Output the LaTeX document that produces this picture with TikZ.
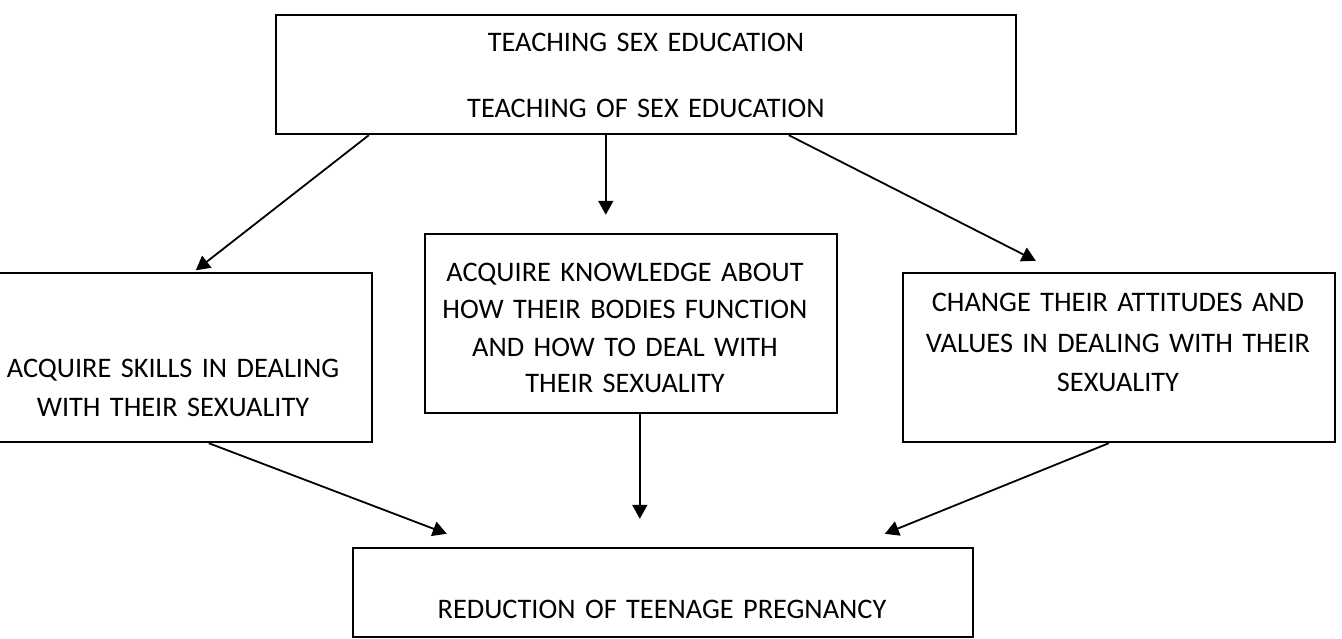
\documentclass[tikz,border=0pt]{standalone}
\usepackage{fontspec}
\setmainfont{Carlito}
\usetikzlibrary{arrows.meta,calc}
\tikzset{
  box/.style={draw=black, line width=2.4pt, inner sep=0pt, fill=none},
  txt/.style={anchor=base, inner sep=0pt, text width=700pt, align=center},
  conn/.style={draw=black, line width=1.8pt, -{Triangle[length=14pt,width=15pt]}},
}
\begin{document}
\begin{tikzpicture}[x=1pt,y=-1pt]
\useasboundingbox[fill=white] (0,0) rectangle (1342,639);
\clip (0,0) rectangle (1342,639);
% boxes
\node[box, minimum width=740pt, minimum height=119pt] (T) at (646,74.5) {};
\node[box, minimum width=398pt, minimum height=169pt] (L) at (173,357.5) {};
\node[box, minimum width=412pt, minimum height=179pt] (M) at (631,323.5) {};
\node[box, minimum width=432pt, minimum height=169pt] (R) at (1119,357.5) {};
\node[box, minimum width=620pt, minimum height=89pt] (B) at (663,592.5) {};
% texts
\node[txt, font=\fontsize{28.3}{39.5}\selectfont] (Tt) at (646,52)
  {TEACHING SEX EDUCATION\\[26.5pt]TEACHING OF SEX EDUCATION};
\node[txt, font=\fontsize{28.3}{39}\selectfont] (Lt) at (173,377)
  {ACQUIRE SKILLS IN DEALING\\WITH THEIR SEXUALITY};
\node[txt, font=\fontsize{28.3}{37}\selectfont] (Mt) at (625,282)
  {ACQUIRE KNOWLEDGE ABOUT\\HOW THEIR BODIES FUNCTION\\AND HOW TO DEAL WITH\\THEIR SEXUALITY};
\node[txt, font=\fontsize{28.3}{40}\selectfont] (Rt) at (1118,312)
  {CHANGE THEIR ATTITUDES AND\\VALUES IN DEALING WITH THEIR\\SEXUALITY};
\node[txt, font=\fontsize{28.3}{39}\selectfont] (Bt) at (662,618)
  {REDUCTION OF TEENAGE PREGNANCY};
% connectors
\draw[conn] ([xshift=94pt]T.south west) -- ([xshift=223pt,yshift=1.5pt]L.north west);
\draw[conn] ([xshift=331pt]T.south west) -- ([xshift=182pt,yshift=18pt]M.north west);
\draw[conn] ([xshift=514pt]T.south west) -- ([xshift=134pt,yshift=11pt]R.north west);
\draw[conn] ([xshift=236pt]L.south west) -- ([xshift=95pt,yshift=13pt]B.north west);
\draw[conn] ([xshift=216pt]M.south west) -- ([xshift=288pt,yshift=28pt]B.north west);
\draw[conn] ([xshift=207pt]R.south west) -- ([xshift=533pt,yshift=13pt]B.north west);
\end{tikzpicture}
\end{document}
